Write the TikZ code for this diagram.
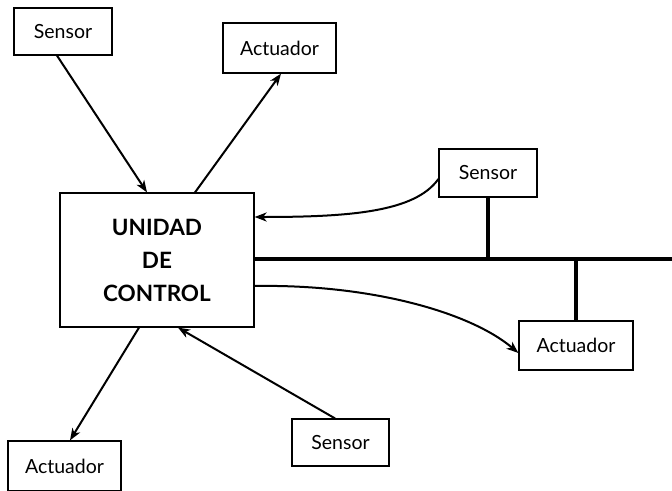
\documentclass[tikz,border=0pt]{standalone}
\usepackage{fontspec}
\setmainfont{Lato}
\usetikzlibrary{arrows.meta}
\tikzset{
  box/.style={draw, line width=1.2pt, rectangle, inner sep=0pt, align=center,
    font=\fontsize{19.5}{22}\selectfont},
  link/.style={line width=2pt, -{Stealth[length=12pt,width=9pt,inset=3.5pt]}},
  bus/.style={line width=3.2pt},
}
\begin{document}
\begin{tikzpicture}[x=1pt,y=-1pt]
\useasboundingbox (0,0) rectangle (672,490);
% central controller
\node[box, minimum width=194pt, minimum height=134pt,
      font=\fontsize{22.5}{33}\selectfont\bfseries] (cu) at (157,260)
      {UNIDAD\\DE\\CONTROL};
% peripheral devices
\node[box, minimum width=98pt, minimum height=47pt] (s1) at (63,31.5) {Sensor};
\node[box, minimum width=113pt, minimum height=50pt] (a1) at (279.5,48) {Actuador};
\node[box, minimum width=98pt, minimum height=48pt] (s2) at (488,173) {Sensor};
\node[box, minimum width=114pt, minimum height=49pt] (a2) at (576,345.5) {Actuador};
\node[box, minimum width=97pt, minimum height=47pt] (s3) at (340.5,442.5) {Sensor};
\node[box, minimum width=113pt, minimum height=50pt] (a3) at (64.5,466) {Actuador};
% direct point-to-point links
\draw[link] ([xshift=-6pt]s1.south) -- ([xshift=-10pt]cu.north);
\draw[link] ([xshift=38pt]cu.north) -- ([xshift=1.5pt]a1.south);
\draw[link] ([xshift=-18pt]cu.south) -- ([xshift=5.5pt]a3.north);
\draw[link] ([xshift=-5.5pt]s3.north) -- ([xshift=21pt]cu.south);
% field bus
\coordinate (busend) at (672,259);
\draw[bus] ([yshift=1pt]cu.east) -- (busend);
\draw[bus] (s2.south) -- (s2.south |- busend);
\draw[bus] (a2.north) -- (a2.north |- busend);
% logical paths over the bus
\draw[link] ([yshift=-6pt]s2.west) .. controls (415,212) and (350,217) .. ([yshift=43pt]cu.east);
\draw[link] ([yshift=-26pt]cu.east) .. controls (370,284) and (470,312) .. ([yshift=-7.5pt]a2.west);
\end{tikzpicture}
\end{document}
